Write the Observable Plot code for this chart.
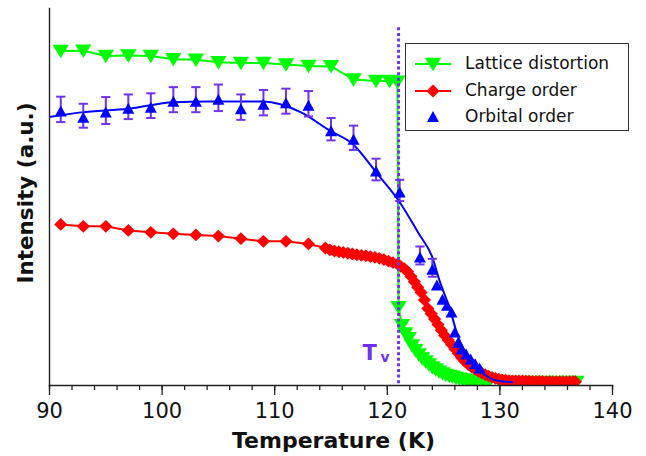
<!DOCTYPE html>
<html>
<head>
<meta charset="utf-8">
<script src="https://cdn.jsdelivr.net/npm/d3@7"></script>
<script src="https://cdn.jsdelivr.net/npm/@observablehq/plot@0.6"></script>
<style>
  body { margin: 0; background: #fff; font-family: "DejaVu Sans", sans-serif; }
  #wrap { position: relative; width: 646px; height: 456px; }
  #legend { position: absolute; left: 405px; top: 43px; width: 224px; height: 88px;
            border: 1.5px solid #333; background: #fff; box-sizing: border-box; }
  .row { position: absolute; left: 0; height: 26px; width: 100%; }
  .row svg { position: absolute; left: 9px; top: 3px; }
  .row span { position: absolute; left: 59px; top: 2px; font-size: 17px; color: #111; white-space: nowrap; }
</style>
</head>
<body>
<div id="wrap"></div>
<script>
// ---------- data ----------
const seriesNames = ["Lattice distortion", "Charge order", "Orbital order"];
const majorTicks = [90, 100, 110, 120, 130, 140];
const minorTicks = [90,92,94,96,98,100,102,104,106,108,110,112,114,116,118,120,122,124,126,128,130,132,134,136,138,140];
const Tv = 121.0;

// Lattice distortion: [T (K), intensity]
const lattice = [
  [91,88.6],[93,88.7],[95,87.3],[97,87.4],[99,87.3],[101,86.4],[103,86.3],[105,85.6],
  [107,85.4],[109,85.4],[111,85.0],[113,84.6],[115,84.5],[117,81.0],[119,80.6],
  [120.2,80.6],[120.9,80.4],
  [121.0,20.0],[121.3,15.2],[121.6,13.0],[121.9,11.7],[122.2,9.8],[122.5,8.5],[122.8,7.4],
  [123.1,6.3],[123.4,5.5],[123.7,4.7],[124.0,3.9],[124.3,3.4],[124.6,2.8],[124.9,2.3],
  [125.2,1.9],[125.5,1.6],[125.8,1.4],[126.1,1.1],[126.4,0.9],[126.7,0.7],[127.0,0.55],
  [127.3,0.45],[127.6,0.3],[128.0,0.2],[128.5,0.1],[129.0,0.05],[130,0],[131,0],[132,0],
  [133,0],[134,0],[135,0],[136,0],[136.8,0]
];

// Charge order: [T (K), intensity]
const charge = [
  [91,42.2],[93,41.7],[95,41.7],[97,40.6],[99,40.1],[101,39.7],[103,39.4],[105,39.1],
  [107,38.4],[109,37.7],[111,37.7],[113,37.0],
  [114.5,35.9],[114.9,35.4],[115.3,35.1],[115.7,34.9],[116.1,34.7],[116.5,34.5],[116.9,34.3],
  [117.3,34.1],[117.7,33.9],[118.1,33.8],[118.5,33.6],[118.9,33.4],[119.3,33.1],[119.7,32.8],
  [120.1,32.4],[120.5,32.0],[120.9,31.6],[121.2,31.0],[121.5,30.4],[121.8,29.6],[122.1,28.3],
  [122.4,26.9],[122.7,25.4],[123.0,24.0],[123.3,22.0],[123.6,19.7],[123.9,18.3],[124.2,16.9],
  [124.5,15.4],[124.8,13.9],[125.1,12.5],[125.4,11.3],[125.7,10.1],[126.0,8.9],[126.3,7.7],
  [126.6,6.5],[126.9,5.5],[127.2,4.7],[127.5,4.0],[127.8,3.4],[128.1,2.9],[128.4,2.4],
  [128.7,2.0],[129.0,1.6],[129.3,1.3],[129.6,1.0],[129.9,0.8],[130.2,0.6],[130.5,0.5],
  [130.8,0.4],[131.1,0.35],[131.4,0.3],[131.7,0.3],[132.0,0.3],[132.3,0.25],[132.6,0.25],
  [132.9,0.2],[133.2,0.2],[133.5,0.2],[133.8,0.2],[134.1,0.15],[134.4,0.15],[134.7,0.15],
  [135.0,0.1],[135.3,0.1],[135.6,0.1],[135.9,0.1],[136.2,0.1],[136.5,0.1],[136.7,0.1]
];

// Orbital order: [T (K), intensity, error]
const orbital = [
  [91,73.0,3.4],[93,71.3,3.2],[95,72.7,3.6],[97,73.7,3.3],[99,74.0,3.3],[101,75.6,3.35],
  [103,75.6,3.35],[105,76.1,3.55],[107,73.6,3.4],[109,74.8,3.4],[111,75.2,3.35],[113,74.5,3.4],
  [115,67.7,3.0],[117,65.4,3.25],[119,56.9,2.9],[121.1,51.3,2.85],[122.9,33.9,2.4],[124.0,30.6,2.4],
  [124.4,26.4,0],[124.9,22.6,0],[125.3,21.0,0],[125.7,19.2,0],[126.0,13.8,0],[126.3,11.1,0],
  [126.6,9.3,0],[127.0,7.9,0],[127.4,6.6,0],[127.8,5.3,0],[128.2,4.2,0]
];

// Orbital order fit curve: [T (K), intensity]
const orbitalFit = [
  [90.1,71.0],[92.8,72.2],[97,73.15],[101,74.9],[104,75.1],[109,75.1],[112.3,72.25],
  [114.9,67.3],[116.9,63.8],[119.1,55.8],[121.0,48.6],[122.8,39.7],[124.0,33.4],[124.6,27.5],
  [125.6,19.2],[126.2,12.9],[127.4,5.8],[128.55,2.2],[129.7,0.45],[131.1,0]
];

// ---------- styles ----------
const green = "#00ff00", red = "#ff0000", blue = "#0000ff", violet = "#6f33ee";
const triDown = {draw(c){ c.moveTo(-8.2,-6.3); c.lineTo(8.2,-6.3); c.lineTo(0,7.2); c.closePath(); }};
const triUp   = {draw(c){ c.moveTo(0,-6); c.lineTo(6,5); c.lineTo(-6,5); c.closePath(); }};
const diamond = {draw(c){ c.moveTo(0,-6.4); c.lineTo(6.6,0); c.lineTo(0,6.4); c.lineTo(-6.6,0); c.closePath(); }};
const cap     = {draw(c){ c.moveTo(-4.6,0); c.lineTo(4.6,0); }};

const X = d => d[0], Y = d => d[1];
const withErr = orbital.filter(d => d[2] > 0);

const W = 646, H = 456, mL = 49, mR = 34, mT = 8, mB = 71;

const chart = Plot.plot({
  width: W, height: H,
  marginLeft: mL, marginRight: mR, marginTop: mT, marginBottom: mB,
  style: {fontFamily: "DejaVu Sans", background: "white", color: "#111"},
  x: {domain: [90, 140]},
  y: {domain: [-0.9, 100], axis: null},
  marks: [
    Plot.line(lattice, {x: X, y: Y, stroke: green, strokeWidth: 2, clip: true}),
    Plot.dot(lattice, {x: X, y: Y, symbol: triDown, fill: green, stroke: "none", clip: true}),
    Plot.line(charge, {x: X, y: Y, stroke: red, strokeWidth: 2, clip: true}),
    Plot.dot(charge, {x: X, y: Y, symbol: diamond, fill: red, stroke: "none", clip: true}),
    Plot.ruleX([Tv], {x: d => d, y1: -0.4, y2: 95.5, stroke: violet, strokeWidth: 3, strokeDasharray: "3,2.6"}),
    Plot.line(orbitalFit, {x: X, y: Y, curve: "monotone-x", stroke: blue, strokeWidth: 2, clip: true}),
    Plot.ruleX(withErr, {x: X, y1: d => d[1] - d[2], y2: d => d[1] + d[2], stroke: violet, strokeWidth: 2}),
    Plot.dot(withErr, {x: X, y: d => d[1] + d[2], symbol: cap, fill: "none", stroke: violet, strokeWidth: 2}),
    Plot.dot(withErr, {x: X, y: d => d[1] - d[2], symbol: cap, fill: "none", stroke: violet, strokeWidth: 2}),
    Plot.dot(orbital, {x: X, y: Y, dy: 2, symbol: triUp, fill: blue, stroke: "none", clip: true}),
    Plot.text([Tv], {x: d => d, y: 5.8, dx: -36, text: () => "T", textAnchor: "start", lineAnchor: "bottom",
                     fontSize: 21, fontWeight: "bold", fill: violet}),
    Plot.text([Tv], {x: d => d, y: 5.5, dx: -18, text: () => "v", textAnchor: "start", lineAnchor: "bottom",
                     fontSize: 14, fontWeight: "bold", fill: violet}),
    Plot.frame({anchor: "left", stroke: "#222", strokeWidth: 1.4}),
    Plot.frame({anchor: "bottom", stroke: "#222", strokeWidth: 1.4}),
    Plot.axisX({ticks: minorTicks, tickSize: 5, tickFormat: () => "", label: null, stroke: "#222", strokeWidth: 1.3}),
    Plot.axisX({ticks: majorTicks, tickSize: 10, tickPadding: 8, tickFormat: d => String(d), label: null,
                fontSize: 21, stroke: "#222", strokeWidth: 1.3, fill: "#111"})
  ]
});

// axis titles
const svg = d3.select(chart);
svg.append("text")
  .attr("x", (mL + W - mR) / 2 + 3).attr("y", 448)
  .attr("text-anchor", "middle").attr("font-size", 22).attr("font-weight", "bold")
  .attr("fill", "#111").attr("font-family", "DejaVu Sans")
  .text("Temperature (K)");
svg.append("text")
  .attr("transform", "translate(33,193) rotate(-90)")
  .attr("text-anchor", "middle").attr("font-size", 21.5).attr("font-weight", "bold")
  .attr("fill", "#111").attr("font-family", "DejaVu Sans")
  .text("Intensity (a.u.)");

const wrap = document.getElementById("wrap");
wrap.appendChild(chart);

// legend
const legend = document.createElement("div");
legend.id = "legend";
const legendSym = [
  `<line x1="0" y1="10" x2="36" y2="10" stroke="${green}" stroke-width="2"/><path transform="translate(18,10)" d="M-8.2,-6.3L8.2,-6.3L0,7.2Z" fill="${green}"/>`,
  `<line x1="0" y1="10" x2="36" y2="10" stroke="${red}" stroke-width="2"/><path transform="translate(18,10)" d="M0,-6.4L6.6,0L0,6.4L-6.6,0Z" fill="${red}"/>`,
  `<path transform="translate(18,10)" d="M0,-6L6,5L-6,5Z" fill="${blue}"/>`
];
seriesNames.forEach((name, i) => {
  const row = document.createElement("div");
  row.className = "row";
  row.style.top = (7 + i * 26.6) + "px";
  row.innerHTML = `<svg width="40" height="20">${legendSym[i]}</svg><span>${name}</span>`;
  legend.appendChild(row);
});
wrap.appendChild(legend);
</script>
</body>
</html>
